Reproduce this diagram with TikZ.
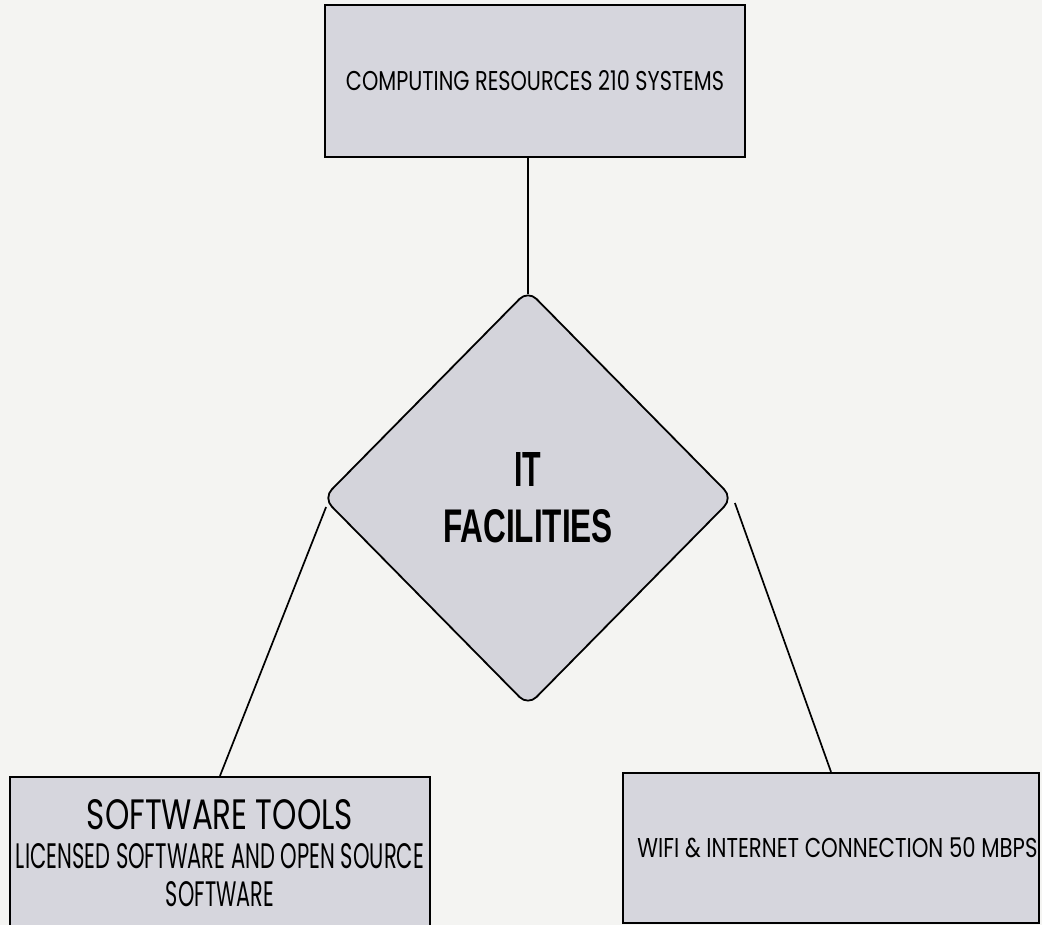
\documentclass[tikz,border=0pt]{standalone}
\usepackage{fontspec}
\usepackage{graphicx}
\setmainfont{Poppins}
\newfontfamily\arialfont{Liberation Sans}
\usetikzlibrary{shapes.geometric}
\definecolor{paper}{RGB}{244,244,242}
\definecolor{boxfill}{RGB}{214,214,221}
\definecolor{diafill}{RGB}{212,212,219}
\tikzset{
  infobox/.style={draw=black, line width=2.3pt, fill=boxfill, rectangle, inner sep=0pt, align=center},
  hubshape/.style={draw=black, line width=1.8pt, fill=diafill, diamond, inner sep=0pt, rounded corners=12pt, align=center},
  link/.style={draw=black, line width=1.7pt}
}
\begin{document}
\begin{tikzpicture}[x=1pt, y=-1pt]
  \fill[paper] (0,0) rectangle (1042,925);
  \useasboundingbox (0,0) rectangle (1042,925);
  \begin{scope}
  \clip (0,0) rectangle (1042,925);
  \node[infobox, minimum width=420pt, minimum height=152pt] (top) at (535,81)
    {\resizebox{378pt}{20pt}{COMPUTING RESOURCES 210 SYSTEMS}};
  \node[hubshape, minimum width=410pt, minimum height=416pt,
        font=\fontsize{40pt}{56pt}\selectfont] (dia) at (528,498)
    {\resizebox{27pt}{34pt}{\arialfont\bfseries IT}\\\resizebox{170pt}{33pt}{\arialfont\bfseries FACILITIES}};
  \node[infobox, minimum width=420pt, minimum height=153pt,
        font=\fontsize{30pt}{38.5pt}\selectfont] (sw) at (220,853.5)
    {\resizebox{266pt}{30pt}{SOFTWARE TOOLS}\\\resizebox{408pt}{25pt}{LICENSED SOFTWARE AND OPEN SOURCE}\\\resizebox{108pt}{25pt}{SOFTWARE}};
  \node[infobox, minimum width=416pt, minimum height=150pt] (se) at (831,848)
    {\hspace*{13pt}\resizebox{400pt}{20pt}{WIFI \& INTERNET CONNECTION 50 MBPS}};
  \draw[link] ([yshift=-5pt]dia.north) -- (dia.north |- top.south);
  \draw[link] ([shift={(4pt,-9pt)}]dia.west) -- (sw.north);
  \draw[link] ([shift={(1pt,-5pt)}]dia.east) -- (se.north);
  \end{scope}
\end{tikzpicture}
\end{document}
